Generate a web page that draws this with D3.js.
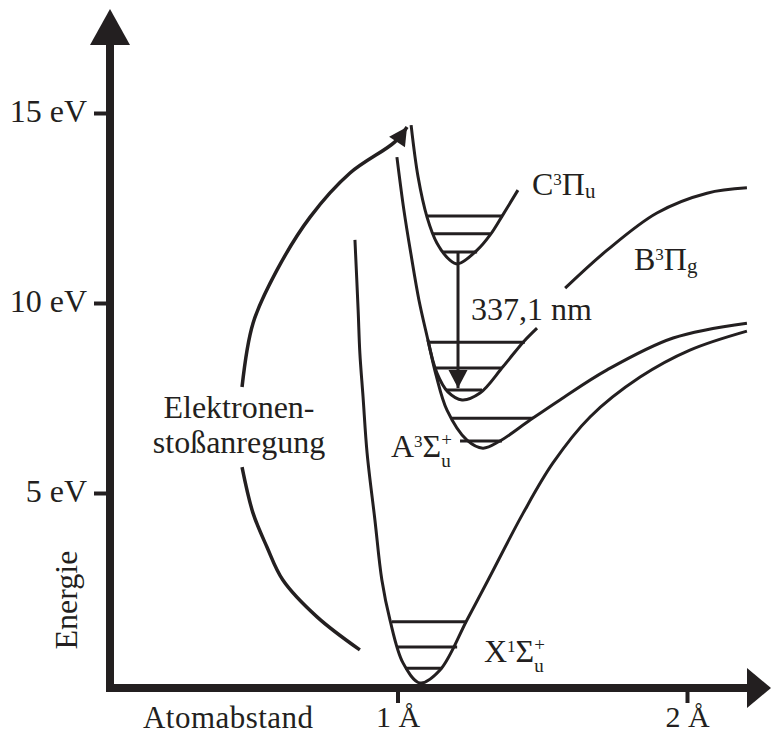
<!DOCTYPE html>
<html>
<head>
<meta charset="utf-8">
<script src="https://cdn.jsdelivr.net/npm/d3@7"></script>
<style>
    body { margin: 0; background: #fff; }
    text { font-family: "Liberation Serif", "Times New Roman", serif; font-size: 32px; fill: #231f20; }
</style>
</head>
<body>
<div id="chart"></div>
<script>
// axis ticks
const xTicks = [1, 2];
const xTickLabels = ["1 Å", "2 Å"];
const yTicks = [5, 10, 15];
const yTickLabels = ["5 eV", "10 eV", "15 eV"];

// potential curves, [distance in Å, energy in eV]
const curveX = [[0.853, 11.66], [0.864, 9.82], [0.870, 8.68], [0.881, 7.53], [0.895, 6.05], [0.922, 4.29],
    [0.946, 2.71], [0.974, 1.66], [1.019, 0.53], [1.078, 0.00], [1.147, 0.34], [1.240, 1.66], [1.313, 2.71],
    [1.434, 4.47], [1.537, 5.79], [1.665, 7.00], [1.838, 8.05], [2.010, 8.76], [2.207, 9.26]];
const curveA = [[0.998, 13.84], [1.022, 12.45], [1.047, 11.26], [1.074, 10.08], [1.105, 9.03], [1.133, 8.11],
    [1.171, 7.18], [1.240, 6.39], [1.295, 6.18], [1.354, 6.37], [1.458, 6.92], [1.561, 7.45], [1.724, 8.24],
    [1.952, 9.08], [2.207, 9.47]];
const curveBWell = [[1.105, 9.03], [1.136, 8.16], [1.174, 7.66], [1.223, 7.45], [1.285, 7.63], [1.364, 8.32],
    [1.434, 8.97], [1.482, 9.34]];
const curveBOuter = [[1.579, 10.39], [1.724, 11.39], [1.896, 12.37], [2.069, 12.89], [2.207, 13.03]];
const curveC = [[1.047, 14.68], [1.071, 13.32], [1.102, 12.26], [1.136, 11.58], [1.181, 11.13], [1.209, 11.03],
    [1.275, 11.39], [1.320, 11.79], [1.364, 12.32], [1.416, 12.97]];

// vibrational levels, [energy, r from, r to]
const levelsX = [[1.61, 0.981, 1.240], [0.95, 0.998, 1.206], [0.39, 1.026, 1.154]];
const levelsA = [[6.97, 1.188, 1.468], [6.37, 1.216, 1.361]];
const levelsB = [[8.97, 1.105, 1.440], [8.29, 1.130, 1.358], [7.71, 1.168, 1.292]];
const levelsC = [[12.29, 1.102, 1.364], [11.82, 1.119, 1.320], [11.34, 1.154, 1.275]];

// laser transition C -> B
const transition = [[1.209, 11.34], [1.209, 7.76]];

// electron impact arrow, split round the label
const arcLower = [[0.870, 0.87], [0.722, 1.74], [0.604, 2.71], [0.549, 3.58], [0.501, 4.47], [0.463, 5.68]];
const arcUpper = [[0.463, 7.79], [0.501, 9.47], [0.584, 10.87], [0.698, 12.26], [0.836, 13.42],
    [0.991, 14.24], [1.033, 14.63]];

const W = 772, H = 735,
    AXIS_X = 110, AXIS_Y = 688,
    INK = "#231f20";

const svg = d3.select("#chart").append("svg")
    .attr("width", W)
    .attr("height", H);

const x = d3.scaleLinear().domain([0, 2]).range([108, 687]);
const y = d3.scaleLinear().domain([0, 15]).range([683, 113]);

const defs = svg.append("defs");
defs.append("marker")
    .attr("id", "head")
    .attr("viewBox", "-20 -10 20 20")
    .attr("markerUnits", "userSpaceOnUse")
    .attr("markerWidth", 20)
    .attr("markerHeight", 20)
    .attr("refX", 0)
    .attr("refY", 0)
    .attr("orient", "auto")
    .append("path")
    .attr("d", "M0,0 L-18,-9.5 L-18,9.5 Z")
    .attr("fill", INK);

const line = d3.line()
    .x(d => x(d[0]))
    .y(d => y(d[1]))
    .curve(d3.curveCatmullRom.alpha(0.5));

// potential curves
const curves = svg.append("g").attr("class", "curves");
[curveX, curveA, curveBWell, curveBOuter, curveC].forEach(c => {
    curves.append("path")
        .attr("d", line(c))
        .attr("fill", "none")
        .attr("stroke", INK)
        .attr("stroke-width", 3);
});

// vibrational levels
const levels = svg.append("g").attr("class", "levels");
levels.selectAll("line")
    .data([].concat(levelsX, levelsA, levelsB, levelsC))
    .join("line")
    .attr("x1", d => x(d[1]))
    .attr("x2", d => x(d[2]))
    .attr("y1", d => y(d[0]))
    .attr("y2", d => y(d[0]))
    .attr("stroke", INK)
    .attr("stroke-width", 3);

// transition arrow
svg.append("path")
    .attr("d", d3.line().x(d => x(d[0])).y(d => y(d[1]))(transition))
    .attr("stroke", INK)
    .attr("stroke-width", 3)
    .attr("marker-end", "url(#head)");

// electron impact arc
svg.append("path")
    .attr("d", line(arcLower))
    .attr("fill", "none")
    .attr("stroke", INK)
    .attr("stroke-width", 3.5);
svg.append("path")
    .attr("d", line(arcUpper))
    .attr("fill", "none")
    .attr("stroke", INK)
    .attr("stroke-width", 3.5)
    .attr("marker-end", "url(#head)");

// axes: ticks from d3, thick frame drawn by hand
const yAxis = svg.append("g")
    .attr("transform", `translate(${AXIS_X},0)`)
    .call(d3.axisLeft(y).tickValues(yTicks).tickFormat((d, i) => yTickLabels[i])
        .tickSize(16).tickSizeOuter(0).tickPadding(7));
const xAxis = svg.append("g")
    .attr("transform", `translate(0,${AXIS_Y})`)
    .call(d3.axisBottom(x).tickValues(xTicks).tickFormat((d, i) => xTickLabels[i])
        .tickSize(15).tickSizeOuter(0).tickPadding(4));
[yAxis, xAxis].forEach(a => {
    a.select(".domain").remove();
    a.selectAll(".tick line").attr("stroke", INK).attr("stroke-width", 4);
    a.selectAll(".tick text").attr("font-size", null).attr("font-family", null).attr("fill", INK);
});
yAxis.selectAll(".tick text").attr("dy", "0.25em");
xAxis.selectAll(".tick text").style("font-size", "30px").attr("dy", "0.68em");

svg.append("path")
    .attr("d", `M${AXIS_X},44 V${AXIS_Y} H748`)
    .attr("fill", "none")
    .attr("stroke", INK)
    .attr("stroke-width", 8)
    .attr("stroke-linejoin", "miter");
svg.append("path")
    .attr("d", `M${AXIS_X},9 L${AXIS_X - 20},45 L${AXIS_X + 20},45 Z`)
    .attr("fill", INK);
svg.append("path")
    .attr("d", `M771,${AXIS_Y} L747,${AXIS_Y - 20} L747,${AXIS_Y + 20} Z`)
    .attr("fill", INK);

// axis titles
svg.append("text")
    .attr("x", 143)
    .attr("y", 728)
    .style("font-size", "31px")
    .attr("textLength", 170)
    .text("Atomabstand");
svg.append("text")
    .attr("transform", "translate(77,600) rotate(-90)")
    .attr("text-anchor", "middle")
    .text("Energie");

// annotations
svg.append("text")
    .attr("x", 239)
    .attr("y", 418)
    .attr("text-anchor", "middle")
    .text("Elektronen-");
svg.append("text")
    .attr("x", 239)
    .attr("y", 453)
    .attr("text-anchor", "middle")
    .text("stoßanregung");
svg.append("text")
    .attr("x", 471)
    .attr("y", 320)
    .text("337,1 nm");

// term symbols like C³Πu, with stacked sup/sub for Σ states
function termLabel(x0, y0, parts, stack) {
    const t = svg.append("text").attr("x", x0).attr("y", y0);
    let shift = 0;
    parts.forEach(p => {
        const target = p.sup ? -10 : p.sub ? 3 : 0;
        t.append("tspan")
            .attr("dy", target - shift)
            .style("font-size", p.sup ? "17px" : p.sub ? "21px" : null)
            .text(p.t);
        shift = target;
    });
    if (stack) {
        const w = t.node().getComputedTextLength();
        svg.append("text").attr("x", x0 + w).attr("y", y0 - 11).style("font-size", "19px").text(stack[0]);
        svg.append("text").attr("x", x0 + w).attr("y", y0 + 10).style("font-size", "19px").text(stack[1]);
    }
}

termLabel(532, 195, [{t: "C"}, {t: "3", sup: true}, {t: "Π"}, {t: "u", sub: true}]);
termLabel(634, 270, [{t: "B"}, {t: "3", sup: true}, {t: "Π"}, {t: "g", sub: true}]);
termLabel(391, 457, [{t: "A"}, {t: "3", sup: true}, {t: "Σ"}], ["+", "u"]);
termLabel(484, 662, [{t: "X"}, {t: "1", sup: true}, {t: "Σ"}], ["+", "u"]);
</script>
</body>
</html>
